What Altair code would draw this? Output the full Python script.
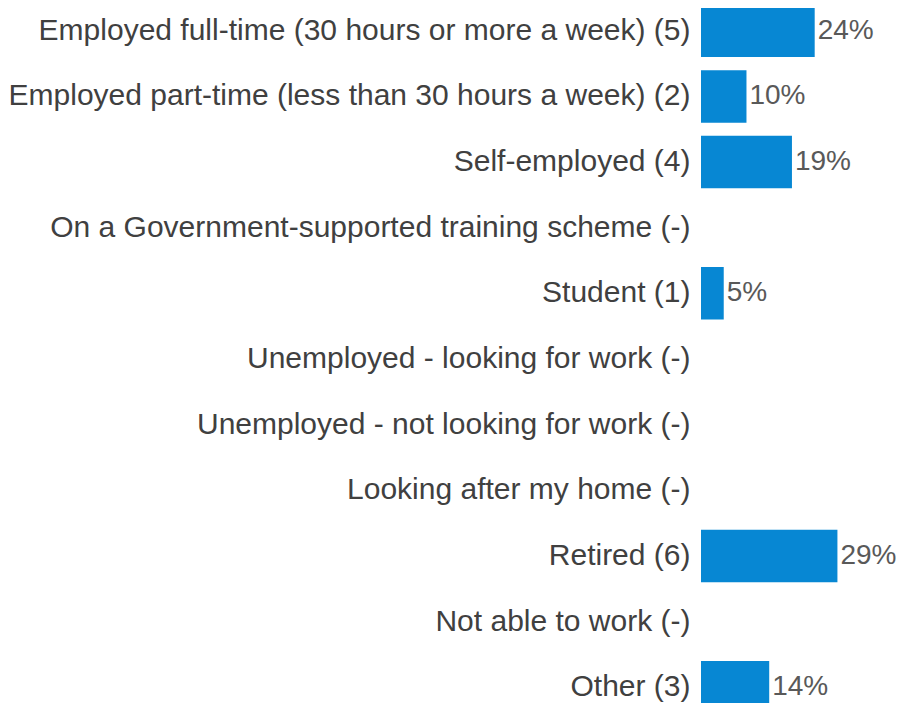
import altair as alt
import pandas as pd

categories = [
    "Employed full-time (30 hours or more a week) (5)",
    "Employed part-time (less than 30 hours a week) (2)",
    "Self-employed (4)",
    "On a Government-supported training scheme (-)",
    "Student (1)",
    "Unemployed - looking for work (-)",
    "Unemployed - not looking for work (-)",
    "Looking after my home (-)",
    "Retired (6)",
    "Not able to work (-)",
    "Other (3)",
]
counts = [5, 2, 4, 0, 1, 0, 0, 0, 6, 0, 3]
total = 21
shares = [c / total for c in counts]

df = pd.DataFrame({"category": categories, "share": shares})

FONT = "Liberation Sans"

y_enc = alt.Y(
    "category:N",
    sort=None,
    title=None,
    scale=alt.Scale(domain=categories, paddingInner=0.2, paddingOuter=0.1),
    axis=alt.Axis(
        domain=False,
        ticks=False,
        grid=False,
        labelFont=FONT,
        labelFontSize=30,
        labelColor="#404040",
        labelPadding=11,
        labelLimit=0,
    ),
)
x_enc = alt.X("share:Q", title=None, axis=None, scale=alt.Scale(domain=[0, 0.4]))

bars = (
    alt.Chart(df)
    .transform_filter("datum.share > 0")
    .mark_bar(color="#0787D3")
    .encode(x=x_enc, y=y_enc)
)
labels = (
    alt.Chart(df)
    .transform_filter("datum.share > 0")
    .mark_text(align="left", baseline="middle", dx=3, font=FONT, fontSize=28, color="#595959")
    .encode(x=x_enc, y=y_enc, text=alt.Text("share:Q", format=".0%"))
)

chart = (
    alt.layer(bars, labels)
    .properties(
        width=191,
        height=722,
        autosize=alt.AutoSizeParams(type="none"),
        padding={"left": 693, "top": -10, "right": 4, "bottom": -17},
    )
    .configure_view(stroke=None)
)

chart.save("out.html", embed_options={"renderer": "svg", "actions": False})
